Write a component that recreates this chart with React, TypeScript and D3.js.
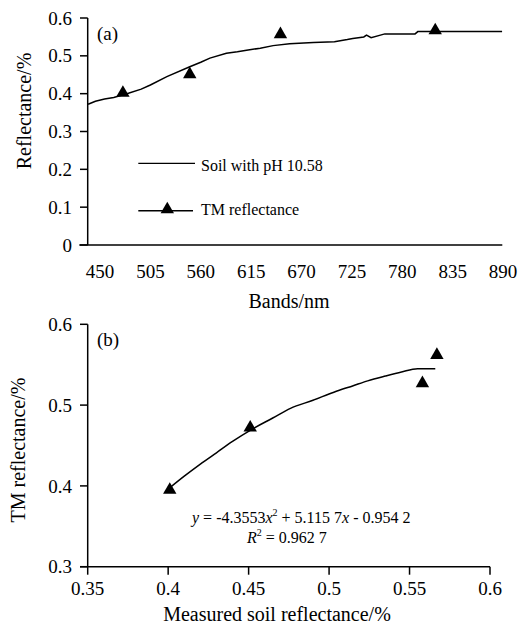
import React from "react";
import * as d3 from "d3";

// ---- Data (a) ----
const bandTicks = [450, 505, 560, 615, 670, 725, 780, 835, 890];
const reflTicksA = [0, 0.1, 0.2, 0.3, 0.4, 0.5, 0.6];
const spectrumNm = [437, 445, 455, 465, 481, 495, 505, 523, 548, 560, 570, 588, 600, 610, 625, 639, 657, 683, 706, 720, 726, 738, 741, 746, 761, 794, 797, 889];
const spectrumRefl = [0.372, 0.38, 0.386, 0.39, 0.401, 0.412, 0.423, 0.445, 0.471, 0.483, 0.494, 0.507, 0.511, 0.515, 0.52, 0.527, 0.532, 0.535, 0.537, 0.543, 0.546, 0.55, 0.555, 0.548, 0.558, 0.558, 0.564, 0.564];
const tmBandNm = [475, 548, 647, 816];
const tmRefl = [0.402, 0.451, 0.557, 0.567];

// ---- Data (b) ----
const measuredTicks = [0.35, 0.4, 0.45, 0.5, 0.55, 0.6];
const tmTicksB = [0.3, 0.4, 0.5, 0.6];
const measuredSoil = [0.401, 0.451, 0.558, 0.567];
const tmObserved = [0.395, 0.472, 0.527, 0.562];
const fitX = [0.4, 0.41, 0.42, 0.43, 0.44, 0.452, 0.465, 0.476, 0.49, 0.503, 0.515, 0.524, 0.535, 0.545, 0.555, 0.566];
const fitY = [0.396, 0.412, 0.427, 0.441, 0.455, 0.47, 0.484, 0.496, 0.506, 0.516, 0.524, 0.53, 0.536, 0.541, 0.545, 0.545];

const FONT = "Liberation Serif, DejaVu Serif, serif";

export default function App() {
  const xA = d3.scaleLinear().domain([450, 890]).range([100, 503]);
  const yA = d3.scaleLinear().domain([0, 0.6]).range([245, 18]);
  const axisLeftA = 87.7;
  const xB = d3.scaleLinear().domain([0.35, 0.6]).range([87.7, 490]);
  const yB = d3.scaleLinear().domain([0.3, 0.6]).range([566.7, 324.3]);

  const lineA = d3
    .line<number>()
    .x((_, i) => xA(spectrumNm[i]))
    .y((d) => yA(d));
  const lineB = d3
    .line<number>()
    .x((_, i) => xB(fitX[i]))
    .y((d) => yB(d))
    .curve(d3.curveMonotoneX);

  const tri = d3.symbol().type(d3.symbolTriangle).size(78)() as string;
  const ts = { fontFamily: FONT };

  return (
    <svg
      width={523}
      height={624}
      style={{ position: "absolute", left: 0, top: 0, background: "#fff", fontFamily: FONT }}
    >
      <rect x={0} y={0} width={523} height={624} fill="#fff" />
      {/* ===== Chart (a) ===== */}
      <g>
        <line x1={axisLeftA} x2={axisLeftA} y1={yA(0.6)} y2={yA(0)} stroke="#000" strokeWidth={1.5} />
        <line x1={79.3} x2={502.3} y1={yA(0)} y2={yA(0)} stroke="#000" strokeWidth={1.5} />
        {reflTicksA.map((t) => (
          <g key={t}>
            <line x1={80} x2={axisLeftA} y1={yA(t)} y2={yA(t)} stroke="#000" strokeWidth={1.5} />
            <text style={ts} x={72} y={yA(t)} dy="0.35em" textAnchor="end" fontSize={19}>
              {t === 0 ? "0" : t.toFixed(1)}
            </text>
          </g>
        ))}
        {bandTicks.map((t) => (
          <text style={ts} key={t} x={xA(t)} y={278} textAnchor="middle" fontSize={19}>
            {t}
          </text>
        ))}
        <text style={ts} x={289} y={308} textAnchor="middle" fontSize={20}>
          Bands/nm
        </text>
        <text style={ts} transform={`translate(31,111) rotate(-90)`} textAnchor="middle" fontSize={20}>
          Reflectance/%
        </text>
        <text style={ts} x={97} y={40} fontSize={19}>
          (a)
        </text>
        <path d={lineA(spectrumRefl) || ""} fill="none" stroke="#000" strokeWidth={1.5} />
        {tmRefl.map((v, i) => (
          <path key={i} d={tri} transform={`translate(${xA(tmBandNm[i])},${yA(v)})`} fill="#000" />
        ))}
        {/* legend */}
        <line x1={138.3} x2={195} y1={163.3} y2={163.3} stroke="#000" strokeWidth={1.3} />
        <text style={ts} x={201} y={171} fontSize={16}>
          Soil with pH 10.58
        </text>
        <line x1={138.3} x2={193} y1={210.7} y2={210.7} stroke="#000" strokeWidth={1.5} />
        <path d={tri} transform="translate(167.3,209.5)" fill="#000" />
        <text style={ts} x={201} y={215} fontSize={16}>
          TM reflectance
        </text>
      </g>

      {/* ===== Chart (b) ===== */}
      <g>
        <line x1={xB(0.35)} x2={xB(0.35)} y1={yB(0.6)} y2={yB(0.3)} stroke="#000" strokeWidth={1.5} />
        <line x1={80} x2={xB(0.6)} y1={yB(0.3)} y2={yB(0.3)} stroke="#000" strokeWidth={1.5} />
        {tmTicksB.map((t) => (
          <g key={t}>
            <line x1={80} x2={xB(0.35)} y1={yB(t)} y2={yB(t)} stroke="#000" strokeWidth={1.5} />
            <text style={ts} x={72} y={yB(t)} dy="0.35em" textAnchor="end" fontSize={19}>
              {t.toFixed(1)}
            </text>
          </g>
        ))}
        {measuredTicks.map((t) => (
          <g key={t}>
            <line x1={xB(t)} x2={xB(t)} y1={yB(0.3)} y2={yB(0.3) + 8} stroke="#000" strokeWidth={1.5} />
            <text style={ts} x={xB(t)} y={595} textAnchor="middle" fontSize={19}>
              {String(t)}
            </text>
          </g>
        ))}
        <text style={ts} x={277} y={621} textAnchor="middle" fontSize={20}>
          Measured soil reflectance/%
        </text>
        <text style={ts} transform={`translate(25,450) rotate(-90)`} textAnchor="middle" fontSize={20}>
          TM reflectance/%
        </text>
        <text style={ts} x={97} y={346} fontSize={19}>
          (b)
        </text>
        <path d={lineB(fitY) || ""} fill="none" stroke="#000" strokeWidth={1.5} />
        {tmObserved.map((v, i) => (
          <path key={i} d={tri} transform={`translate(${xB(measuredSoil[i])},${yB(v)})`} fill="#000" />
        ))}
        <text style={ts} x={192} y={523} fontSize={16}>
          <tspan fontStyle="italic">y</tspan>
          <tspan> = -4.3553</tspan>
          <tspan fontStyle="italic">x</tspan>
          <tspan fontSize={10} dy={-7}>2</tspan>
          <tspan dy={7}> + 5.115 7</tspan>
          <tspan fontStyle="italic">x</tspan>
          <tspan> - 0.954 2</tspan>
        </text>
        <text style={ts} x={247} y={543} fontSize={16}>
          <tspan fontStyle="italic">R</tspan>
          <tspan fontSize={10} dy={-7}>2</tspan>
          <tspan dy={7}> = 0.962 7</tspan>
        </text>
      </g>
    </svg>
  );
}
